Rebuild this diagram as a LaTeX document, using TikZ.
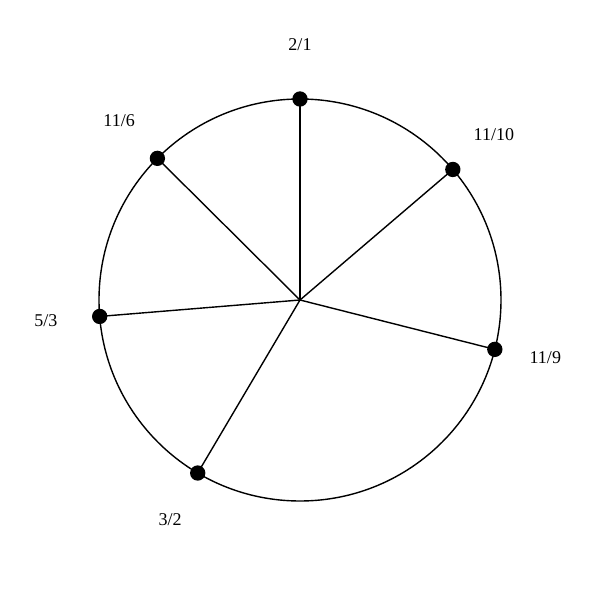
\documentclass[tikz,border=0pt]{standalone}
\usepackage{fontspec}
\setmainfont{Liberation Serif}
\usetikzlibrary{calc}

\begin{document}
\begin{tikzpicture}[x=0.75pt,y=0.75pt,line width=1.05pt,pitch node/.style={circle,fill=black,inner sep=0pt,minimum size=11.5pt},ratio node/.style={font=\fontsize{13.5}{15}\selectfont,inner sep=0pt}]
				\useasboundingbox (-300,-300) rectangle (300,300);

				\coordinate (O) at (0,0);
				\draw (O) circle (201);

				\node[pitch node] (P1) at (90:201) {};
				\node[pitch node] (P2) at (40.50:201) {};
				\node[pitch node] (P3) at (-14.22:201) {};
				\node[pitch node] (P4) at (-120.59:201) {};
				\node[pitch node] (P5) at (-175.31:201) {};
				\node[pitch node] (P6) at (135.19:201) {};

				\node[ratio node] (L1) at (90:255) {2/1};
				\node[ratio node] (L2) at (40.50:255) {11/10};
				\node[ratio node] (L3) at (-13.2:252) {11/9};
				\node[ratio node] (L4) at (-120.59:255) {3/2};
				\node[ratio node] (L5) at (-175.31:255) {5/3};
				\node[ratio node] (L6) at (135.19:255) {11/6};

				\foreach \p in {P1,P2,P3,P4,P5,P6}
					\draw (O) -- (\p.center);

				\end{tikzpicture}
\end{document}
